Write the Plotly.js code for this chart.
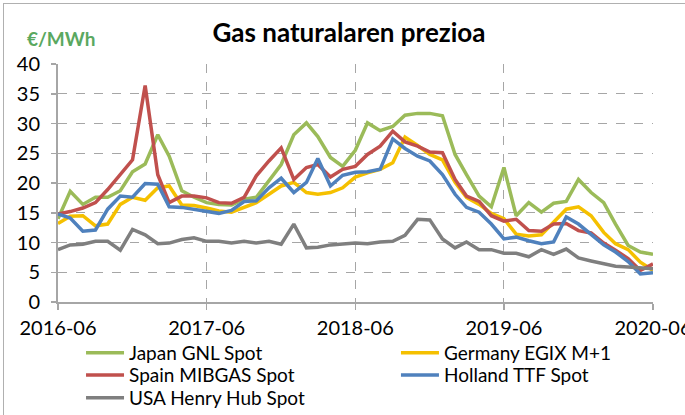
<!DOCTYPE html>
<html><head><meta charset="utf-8">
<script src="https://cdn.plot.ly/plotly-3.0.1.min.js"></script>
<style>html,body{margin:0;padding:0;background:#fff;}#wrap{position:relative;width:685px;height:415px;overflow:hidden;}#chart{width:685px;height:415px;}#frame{position:absolute;left:3px;top:3px;width:700px;height:430px;border:1px solid #b0b0b0;pointer-events:none;}</style>
</head><body><div id="wrap"><div id="chart"></div><div id="frame"></div></div>
<script>
const months = ['2016-06-01','2016-07-01','2016-08-01','2016-09-01','2016-10-01','2016-11-01','2016-12-01','2017-01-01','2017-02-01','2017-03-01','2017-04-01','2017-05-01',
'2017-06-01','2017-07-01','2017-08-01','2017-09-01','2017-10-01','2017-11-01','2017-12-01','2018-01-01','2018-02-01','2018-03-01','2018-04-01','2018-05-01',
'2018-06-01','2018-07-01','2018-08-01','2018-09-01','2018-10-01','2018-11-01','2018-12-01','2019-01-01','2019-02-01','2019-03-01','2019-04-01','2019-05-01',
'2019-06-01','2019-07-01','2019-08-01','2019-09-01','2019-10-01','2019-11-01','2019-12-01','2020-01-01','2020-02-01','2020-03-01','2020-04-01','2020-05-01','2020-06-01'];
const tickVals = ['2016-06-01','2017-06-01','2018-06-01','2019-06-01','2020-06-01'];
const tickText = ['2016-06','2017-06','2018-06','2019-06','2020-06'];
const japan = [14.0,18.6,16.4,17.6,17.6,18.7,21.9,23.2,28.1,24.5,18.7,17.6,
16.7,16.4,16.3,17.3,17.6,20.3,23.1,28.1,30.1,27.8,24.3,22.8,
25.5,30.1,28.8,29.5,31.4,31.7,31.7,31.3,24.8,21.4,17.8,16.0,
22.6,14.5,16.7,15.1,16.6,16.9,20.6,18.4,16.7,13.1,9.5,8.4,8.0];
const germany = [13.2,14.4,14.5,12.8,13.1,16.4,17.6,17.1,19.2,19.5,16.3,16.2,
15.8,15.3,15.1,15.9,16.7,18.1,19.5,20.1,18.4,18.1,18.4,19.2,
21.0,21.7,22.3,23.4,27.7,26.3,24.8,23.9,20.1,17.6,16.4,14.9,
14.0,11.4,11.1,11.3,13.4,15.6,16.0,14.5,11.7,9.8,8.8,6.7,5.3];
const spain = [14.8,15.2,15.8,16.7,18.9,21.4,23.9,36.4,21.4,16.7,17.8,17.8,
17.5,16.7,16.6,17.6,21.2,23.7,25.9,20.6,22.6,23.1,21.0,22.3,
22.8,24.8,26.2,28.7,26.9,26.2,25.2,25.1,20.6,17.8,16.9,14.5,
13.6,13.9,12.0,11.9,13.1,13.2,12.0,11.6,9.9,8.7,7.3,5.3,6.4];
const holland = [14.8,14.1,11.9,12.1,15.6,17.8,17.6,19.9,19.8,16.0,15.9,15.6,
15.2,14.9,15.4,16.9,17.0,19.2,20.8,18.4,20.1,24.1,19.5,21.3,
21.8,21.9,22.3,27.4,25.8,24.5,23.7,21.4,18.1,15.9,15.1,13.1,
10.6,10.9,10.3,9.8,10.1,14.3,13.1,11.4,9.6,8.4,6.8,4.7,4.9];
const usa = [8.8,9.6,9.7,10.2,10.2,8.7,12.2,11.3,9.8,9.9,10.5,10.8,
10.2,10.2,9.9,10.2,9.9,10.2,9.7,13.1,9.1,9.2,9.6,9.7,
9.9,9.8,10.1,10.2,11.2,13.9,13.8,10.6,9.1,10.1,8.8,8.8,
8.2,8.2,7.6,8.8,8.0,8.9,7.4,6.9,6.4,6.0,5.9,5.7,5.6];

const names = ['Japan GNL Spot','Germany EGIX M+1','Spain MIBGAS Spot','Holland TTF Spot','USA Henry Hub Spot'];
const colors = ['#9bbb59','#f5c000','#c0504d','#4f81bd','#7f7f7f'];
const legendOf = ['legend','legend2','legend3','legend4','legend5'];
const series = [japan, germany, spain, holland, usa];

const FONT = 'Lato, "Open Sans", sans-serif';
const traces = series.map((s,k)=>({
  x: months, y: s, name: names[k], type:'scatter', mode:'lines', legend: legendOf[k],
  line:{color:colors[k], width:3.5}
}));

const legBase = {orientation:'v', xanchor:'left', yanchor:'top', itemwidth:38, font:{family:FONT, size:19, color:'#000'}, bgcolor:'rgba(0,0,0,0)'};
const colX = [0.0387, 0.568];
const rowY = [-0.1345, -0.227, -0.3235];

const layout = {
  width:685, height:415,
  margin:{l:58, r:32, t:64, b:113, autoexpand:false},
  paper_bgcolor:'#fff', plot_bgcolor:'#fff',
  font:{family:FONT, size:19, color:'#000'},
  title:{text:'<b>Gas naturalaren prezioa</b>', font:{family:FONT, size:26, color:'#000'}, x:0.5095, xanchor:'center', y:0.92, yanchor:'middle'},
  showlegend:true,
  legend:  Object.assign({}, legBase, {x:colX[0], y:rowY[0]}),
  legend2: Object.assign({}, legBase, {x:colX[1], y:rowY[0]}),
  legend3: Object.assign({}, legBase, {x:colX[0], y:rowY[1]}),
  legend4: Object.assign({}, legBase, {x:colX[1], y:rowY[1]}),
  legend5: Object.assign({}, legBase, {x:colX[0], y:rowY[2]}),
  xaxis:{type:'date', range:['2016-06-01','2020-06-01'], tickvals:tickVals, ticktext:tickText, automargin:false, ticklabeloverflow:'allow',
    showgrid:true, gridcolor:'#a6a6a6', griddash:'dash', gridwidth:1,
    showline:true, linecolor:'#a6a6a6', linewidth:2, ticks:'outside', ticklen:6, tickcolor:'#a6a6a6', tickwidth:1.5, ticklabelstandoff:1,
    tickfont:{family:FONT, size:20, color:'#000'}, zeroline:false, fixedrange:true},
  yaxis:{range:[0,40], dtick:5, tick0:0, automargin:false, showgrid:true, gridcolor:'#a6a6a6', griddash:'dash', gridwidth:1,
    showline:true, linecolor:'#a6a6a6', linewidth:2, ticks:'outside', ticklen:5, tickcolor:'#a6a6a6', tickwidth:1.5, ticklabelstandoff:7,
    tickfont:{family:FONT, size:20, color:'#000'}, zeroline:false, fixedrange:true},
  annotations:[{text:'<b>€/MWh</b>', xref:'paper', yref:'paper', x:-0.0555, xanchor:'left', y:1.109, yanchor:'middle', showarrow:false, font:{family:FONT, size:19, color:'#5aa860'}}]
};
Plotly.newPlot('chart', traces, layout, {displayModeBar:false, staticPlot:true});
</script></body></html>
